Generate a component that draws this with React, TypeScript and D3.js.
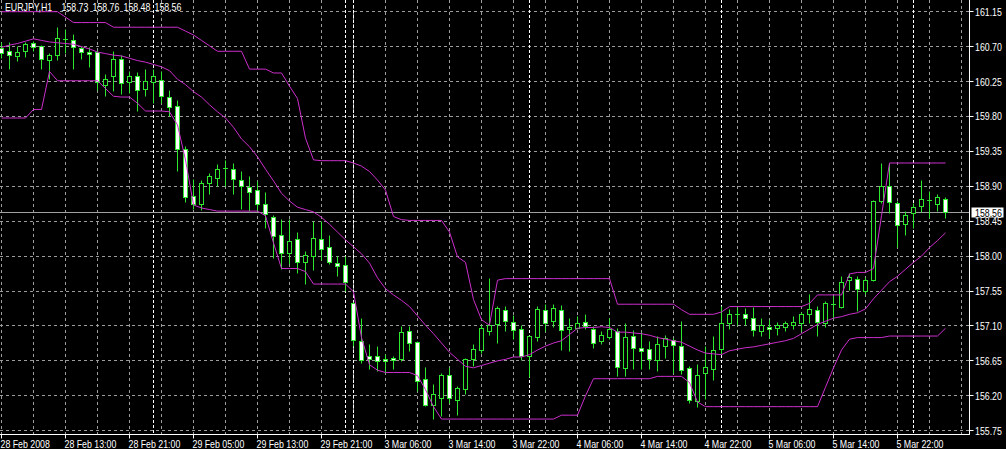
import React from "react";
import * as d3 from "d3";

// EURJPY H1, 28 Feb 05:00 .. 6 Mar 04:00 (119 bars)
const openP = [
  160.68, 160.64, 160.57, 160.64, 160.74, 160.70, 160.52, 160.58, 160.79, 160.78,
  160.67, 160.63, 160.63, 160.20, 160.31, 160.54, 160.24, 160.31, 160.15, 160.24,
  160.26, 160.05, 159.93, 159.37, 158.77, 158.67, 158.94, 159.00, 159.13, 159.12,
  158.97, 158.89, 158.85, 158.66, 158.50, 158.26, 158.04, 158.21, 157.92, 157.99,
  158.21, 158.11, 157.91, 157.88, 157.39, 156.90, 156.70, 156.70, 156.67, 156.68,
  156.67, 157.03, 156.89, 156.41, 156.07, 156.17, 156.46, 156.14, 156.28, 156.67,
  156.78, 157.03, 157.12, 157.30, 157.14, 157.06, 156.71, 156.95, 157.30, 157.16,
  157.30, 157.06, 157.07, 157.15, 157.05, 156.90, 156.95, 157.03, 156.55, 156.96,
  156.81, 156.80, 156.66, 156.84, 156.91, 156.84, 156.55, 156.12, 156.49, 156.54,
  156.80, 157.13, 157.25, 157.25, 157.20, 157.03, 157.08, 157.07, 157.08, 157.10,
  157.13, 157.25, 157.30, 157.13, 157.37, 157.34, 157.68, 157.70, 157.55, 157.68,
  158.70, 158.90, 158.68, 158.41, 158.55, 158.64, 158.72, 158.66, 158.73,
];
const highP = [
  160.75, 160.75, 160.70, 160.75, 160.76, 160.72, 160.61, 160.95, 160.92, 160.86,
  160.70, 160.69, 160.65, 160.34, 160.64, 160.58, 160.38, 160.36, 160.40, 160.40,
  160.38, 160.14, 160.01, 159.41, 158.99, 158.97, 159.07, 159.18, 159.23, 159.20,
  159.09, 159.02, 158.96, 158.82, 158.52, 158.47, 158.47, 158.30, 158.06, 158.44,
  158.44, 158.27, 157.99, 157.99, 157.40, 157.19, 156.86, 156.83, 156.73, 156.71,
  157.09, 157.09, 156.90, 156.57, 156.34, 156.49, 156.56, 156.32, 156.68, 156.86,
  157.11, 157.71, 157.35, 157.35, 157.23, 157.10, 156.98, 157.35, 157.37, 157.37,
  157.36, 157.20, 157.22, 157.25, 157.09, 157.03, 157.20, 157.07, 157.13, 157.04,
  157.01, 156.90, 156.97, 156.98, 156.94, 157.16, 156.58, 156.60, 156.83, 156.97,
  157.35, 157.31, 157.34, 157.33, 157.34, 157.20, 157.18, 157.14, 157.16, 157.22,
  157.27, 157.51, 157.35, 157.41, 157.48, 157.74, 157.78, 157.74, 157.73, 158.72,
  159.20, 159.20, 158.70, 158.57, 158.68, 158.97, 158.83, 158.79, 158.76,
];
const lowP = [
  160.55, 160.40, 160.51, 160.56, 160.64, 160.40, 160.27, 160.52, 160.61, 160.41,
  160.53, 160.43, 160.14, 160.06, 160.12, 160.08, 160.09, 159.87, 160.06, 159.97,
  159.97, 159.80, 159.09, 158.69, 158.60, 158.59, 158.79, 158.90, 158.90, 158.80,
  158.60, 158.57, 158.57, 158.35, 157.97, 157.83, 157.89, 157.78, 157.63, 157.82,
  157.94, 157.89, 157.74, 157.54, 156.84, 156.62, 156.54, 156.51, 156.49, 156.54,
  156.64, 156.77, 156.25, 156.06, 155.90, 155.93, 156.10, 155.95, 156.22, 156.58,
  156.74, 156.98, 156.88, 157.03, 156.92, 156.65, 156.43, 156.90, 157.03, 157.08,
  156.79, 156.77, 157.05, 157.06, 156.81, 156.86, 156.92, 156.45, 156.45, 156.54,
  156.54, 156.54, 156.51, 156.68, 156.49, 156.48, 156.10, 156.05, 156.15, 156.40,
  156.73, 157.05, 157.10, 157.11, 156.96, 156.96, 156.94, 156.98, 157.03, 157.05,
  157.03, 157.13, 156.96, 157.08, 157.18, 157.33, 157.56, 157.28, 157.50, 157.67,
  158.68, 158.55, 158.11, 158.27, 158.36, 158.56, 158.49, 158.57, 158.48,
];
const closeP = [
  160.61, 160.58, 160.63, 160.73, 160.69, 160.54, 160.58, 160.81, 160.79, 160.69,
  160.62, 160.60, 160.24, 160.28, 160.54, 160.22, 160.31, 160.14, 160.25, 160.31,
  160.06, 159.91, 159.38, 158.75, 158.66, 158.94, 159.02, 159.12, 159.13, 158.99,
  158.90, 158.82, 158.66, 158.53, 158.25, 158.04, 158.19, 157.92, 158.01, 158.23,
  158.09, 157.92, 157.86, 157.66, 156.91, 156.65, 156.67, 156.64, 156.64, 156.65,
  157.01, 156.88, 156.38, 156.08, 156.22, 156.46, 156.16, 156.30, 156.67, 156.80,
  157.07, 157.10, 157.33, 157.16, 157.04, 156.70, 156.96, 157.31, 157.13, 157.32,
  157.04, 157.08, 157.13, 157.09, 156.88, 156.98, 157.05, 156.57, 156.95, 156.81,
  156.77, 156.67, 156.86, 156.94, 156.85, 156.52, 156.14, 156.46, 156.57, 156.79,
  157.13, 157.25, 157.25, 157.19, 157.04, 157.10, 157.06, 157.10, 157.13, 157.15,
  157.25, 157.31, 157.14, 157.39, 157.37, 157.66, 157.72, 157.57, 157.69, 158.71,
  158.90, 158.69, 158.40, 158.52, 158.63, 158.73, 158.72, 158.75, 158.56,
];

// channel lines (magenta)
const upperLine = [
  161.15, 161.15, 161.15, 161.15, 161.15, 161.15, 161.15, 161.15, 161.08, 161.01,
  161.01, 161.01, 161.01, 161.01, 160.95, 160.95, 160.95, 160.95, 160.95, 160.95,
  160.95, 160.95, 160.95, 160.90, 160.85, 160.78, 160.71, 160.64, 160.64, 160.64,
  160.64, 160.41, 160.41, 160.41, 160.36, 160.36, 160.19, 160.03, 159.52, 159.24,
  159.23, 159.23, 159.23, 159.23, 159.20, 159.16, 159.09, 158.98, 158.85, 158.51,
  158.47, 158.46, 158.46, 158.46, 158.46, 158.46, 158.31, 157.99, 157.92, 157.44,
  157.18, 157.11, 157.69, 157.71, 157.71, 157.71, 157.71, 157.71, 157.71, 157.71,
  157.71, 157.71, 157.71, 157.71, 157.71, 157.71, 157.71, 157.38, 157.38, 157.38,
  157.38, 157.38, 157.38, 157.38, 157.38, 157.31, 157.25, 157.25, 157.25, 157.25,
  157.28, 157.35, 157.35, 157.35, 157.35, 157.35, 157.35, 157.35, 157.35, 157.35,
  157.35, 157.39, 157.50, 157.50, 157.50, 157.50, 157.77, 157.79, 157.79, 157.84,
  158.52, 159.20, 159.20, 159.20, 159.20, 159.20, 159.20, 159.20, 159.20,
];
const middleLine = [
  160.69, 160.72, 160.74, 160.77, 160.80, 160.78, 160.76, 160.75, 160.74, 160.73,
  160.70, 160.67, 160.63, 160.61, 160.59, 160.58, 160.55, 160.52, 160.50, 160.47,
  160.44, 160.39, 160.28, 160.21, 160.12, 160.05, 159.95, 159.86, 159.78, 159.66,
  159.51, 159.41, 159.28, 159.12, 158.97, 158.81, 158.71, 158.63, 158.60, 158.57,
  158.50, 158.41, 158.31, 158.21, 158.12, 158.03, 157.91, 157.72, 157.58, 157.50,
  157.43, 157.35, 157.23, 157.11, 157.00, 156.88, 156.76, 156.67, 156.58, 156.56,
  156.59, 156.62, 156.65, 156.67, 156.70, 156.70, 156.73, 156.79, 156.84, 156.88,
  156.91, 156.99, 157.07, 157.08, 157.08, 157.09, 157.08, 157.02, 157.02, 157.01,
  157.00, 156.98, 156.95, 156.93, 156.91, 156.89, 156.84, 156.79, 156.75, 156.74,
  156.73, 156.78, 156.80, 156.82, 156.83, 156.85, 156.87, 156.89, 156.91, 156.94,
  157.00, 157.06, 157.12, 157.16, 157.20, 157.22, 157.25, 157.27, 157.32, 157.45,
  157.56, 157.67, 157.74, 157.83, 157.92, 158.00, 158.11, 158.20, 158.30,
];
const lowerLine = [
  159.78, 159.78, 159.78, 159.78, 159.89, 159.89, 160.38, 160.26, 160.26, 160.26,
  160.26, 160.26, 160.26, 160.16, 160.06, 160.05, 160.05, 159.97, 159.87, 159.87,
  159.87, 159.86, 159.69, 159.24, 158.66, 158.62, 158.60, 158.58, 158.58, 158.58,
  158.58, 158.58, 158.58, 158.52, 158.17, 157.84, 157.84, 157.84, 157.80, 157.64,
  157.64, 157.64, 157.64, 157.64, 157.54, 156.95, 156.60, 156.53, 156.50, 156.50,
  156.50, 156.50, 156.46, 156.28, 156.06, 155.90, 155.90, 155.90, 155.90, 155.90,
  155.90, 155.90, 155.90, 155.90, 155.90, 155.90, 155.90, 155.90, 155.90, 155.90,
  155.95, 155.95, 155.95, 156.20, 156.42, 156.42, 156.42, 156.42, 156.42, 156.42,
  156.42, 156.42, 156.45, 156.45, 156.45, 156.45, 156.37, 156.12, 156.06, 156.06,
  156.06, 156.06, 156.06, 156.06, 156.06, 156.06, 156.06, 156.06, 156.06, 156.06,
  156.06, 156.06, 156.06, 156.31, 156.56, 156.79, 156.93, 156.95, 156.95, 156.95,
  156.95, 156.97, 156.97, 156.97, 156.97, 156.97, 156.97, 156.97, 157.07,
];

const priceTicks = [
  155.75, 156.2, 156.65, 157.1, 157.55, 158.0, 158.45, 158.9, 159.35, 159.8,
  160.25, 160.7, 161.15,
];
const timeLabels = [
  "28 Feb 2008", "28 Feb 13:00", "28 Feb 21:00", "29 Feb 05:00", "29 Feb 13:00",
  "29 Feb 21:00", "3 Mar 06:00", "3 Mar 14:00", "3 Mar 22:00", "4 Mar 06:00",
  "4 Mar 14:00", "4 Mar 22:00", "5 Mar 06:00", "5 Mar 14:00", "5 Mar 22:00",
];
const labelBars = [0, 8, 16, 24, 32, 40, 48, 56, 64, 72, 80, 88, 96, 104, 112];
const daySeparators = [19, 43, 44, 66, 90, 114];
const titleParts = ["EURJPY,H1", "158.73", "158.76", "158.48", "158.56"];
const lastPrice = 158.56;

const W = 1006;
const H = 449;
const plotRight = 969.5;
const plotBottom = 434.5;
const green = "#2ee62e";
const magenta = "#cc2ecc";
const gridColor = "#9c9c9c";
const font = "'Liberation Sans', Arial, sans-serif";

const snap = (v: number) => Math.round(v - 0.5) + 0.5;

// narrow bitmap-like label: 11px text squeezed horizontally
function Label({ x, y, fill = "#fff", children }: { x: number; y: number; fill?: string; children: React.ReactNode }) {
  return (
    <text transform={`translate(${x},${y}) scale(0.8,1)`} fill={fill} fontSize={11}>
      {children}
    </text>
  );
}

export default function App() {
  const x = d3.scaleLinear().domain([0, 118]).range([1.5, 945.5]);
  const y = d3.scaleLinear().domain([155.75, 161.15]).range([430.7, 11.7]);

  const line = d3
    .line<number>()
    .x((_, i) => x(i))
    .y((d) => y(d));

  const gridBars = d3.range(0, 121, 4);
  const titleX = [5, 61.5, 92.5, 123.5, 154.5];

  return (
    <svg
      width={W}
      height={H}
      style={{ position: "absolute", left: 0, top: 0, display: "block" }}
      fontFamily={font}
    >
      <rect width={W} height={H} fill="#000" />

      {/* grid */}
      {priceTicks.map((p) => (
        <line
          key={"h" + p}
          x1={0}
          x2={plotRight}
          y1={snap(y(p))}
          y2={snap(y(p))}
          stroke={gridColor}
          strokeDasharray="3,3"
        />
      ))}
      {gridBars.map((b) => (
        <line
          key={"v" + b}
          x1={x(b)}
          x2={x(b)}
          y1={0}
          y2={plotBottom}
          stroke={gridColor}
          strokeDasharray="3,3"
        />
      ))}
      {daySeparators.map((b) => (
        <line
          key={"s" + b}
          x1={x(b)}
          x2={x(b)}
          y1={0}
          y2={plotBottom}
          stroke="#fff"
          strokeDasharray="3,2"
        />
      ))}

      {/* last price line */}
      <line
        x1={0}
        x2={plotRight}
        y1={snap(y(lastPrice))}
        y2={snap(y(lastPrice))}
        stroke="#a0a0a0"
      />

      {/* candles */}
      {openP.map((o, i) => {
        const c = closeP[i];
        const cx = x(i);
        const top = snap(y(Math.max(o, c)));
        const bot = snap(y(Math.min(o, c)));
        const bear = c < o;
        return (
          <g key={"c" + i}>
            <line
              x1={cx}
              x2={cx}
              y1={snap(y(highP[i]))}
              y2={snap(y(lowP[i]))}
              stroke={green}
            />
            {bot - top < 1 ? (
              <line x1={cx - 2.5} x2={cx + 2.5} y1={top} y2={top} stroke={green} />
            ) : (
              <rect
                x={cx - 2}
                y={top}
                width={4}
                height={bot - top}
                fill={bear ? "#fff" : "#000"}
                stroke={green}
              />
            )}
          </g>
        );
      })}

      {/* channel */}
      {[upperLine, middleLine, lowerLine].map((s, k) => (
        <path key={"l" + k} d={line(s) ?? ""} fill="none" stroke={magenta} strokeWidth={1} />
      ))}

      {/* frame */}
      <line x1={plotRight} x2={plotRight} y1={0} y2={plotBottom + 0.5} stroke="#fff" />
      <line x1={0} x2={plotRight} y1={plotBottom} y2={plotBottom} stroke="#fff" />

      {/* price axis */}
      {priceTicks.map((p) => (
        <g key={"p" + p}>
          <line
            x1={plotRight}
            x2={plotRight + 4}
            y1={snap(y(p))}
            y2={snap(y(p))}
            stroke="#fff"
          />
          <Label x={975} y={y(p) + 4}>{p.toFixed(2)}</Label>
        </g>
      ))}
      <rect
        x={971.5}
        y={snap(y(lastPrice)) - 5}
        width={32}
        height={10}
        fill="#fff"
      />
      <Label x={975} y={y(lastPrice) + 4} fill="#000">{lastPrice.toFixed(2)}</Label>

      {/* time axis */}
      {timeLabels.map((t, k) => (
        <g key={"t" + k}>
          <line
            x1={x(labelBars[k])}
            x2={x(labelBars[k])}
            y1={plotBottom}
            y2={plotBottom + 4}
            stroke="#fff"
          />
          <Label x={x(labelBars[k]) - 1} y={447.5}>{t}</Label>
        </g>
      ))}

      {/* title */}
      {titleParts.map((s, k) => (
        <Label key={"tt" + k} x={titleX[k]} y={11}>{s}</Label>
      ))}
    </svg>
  );
}
